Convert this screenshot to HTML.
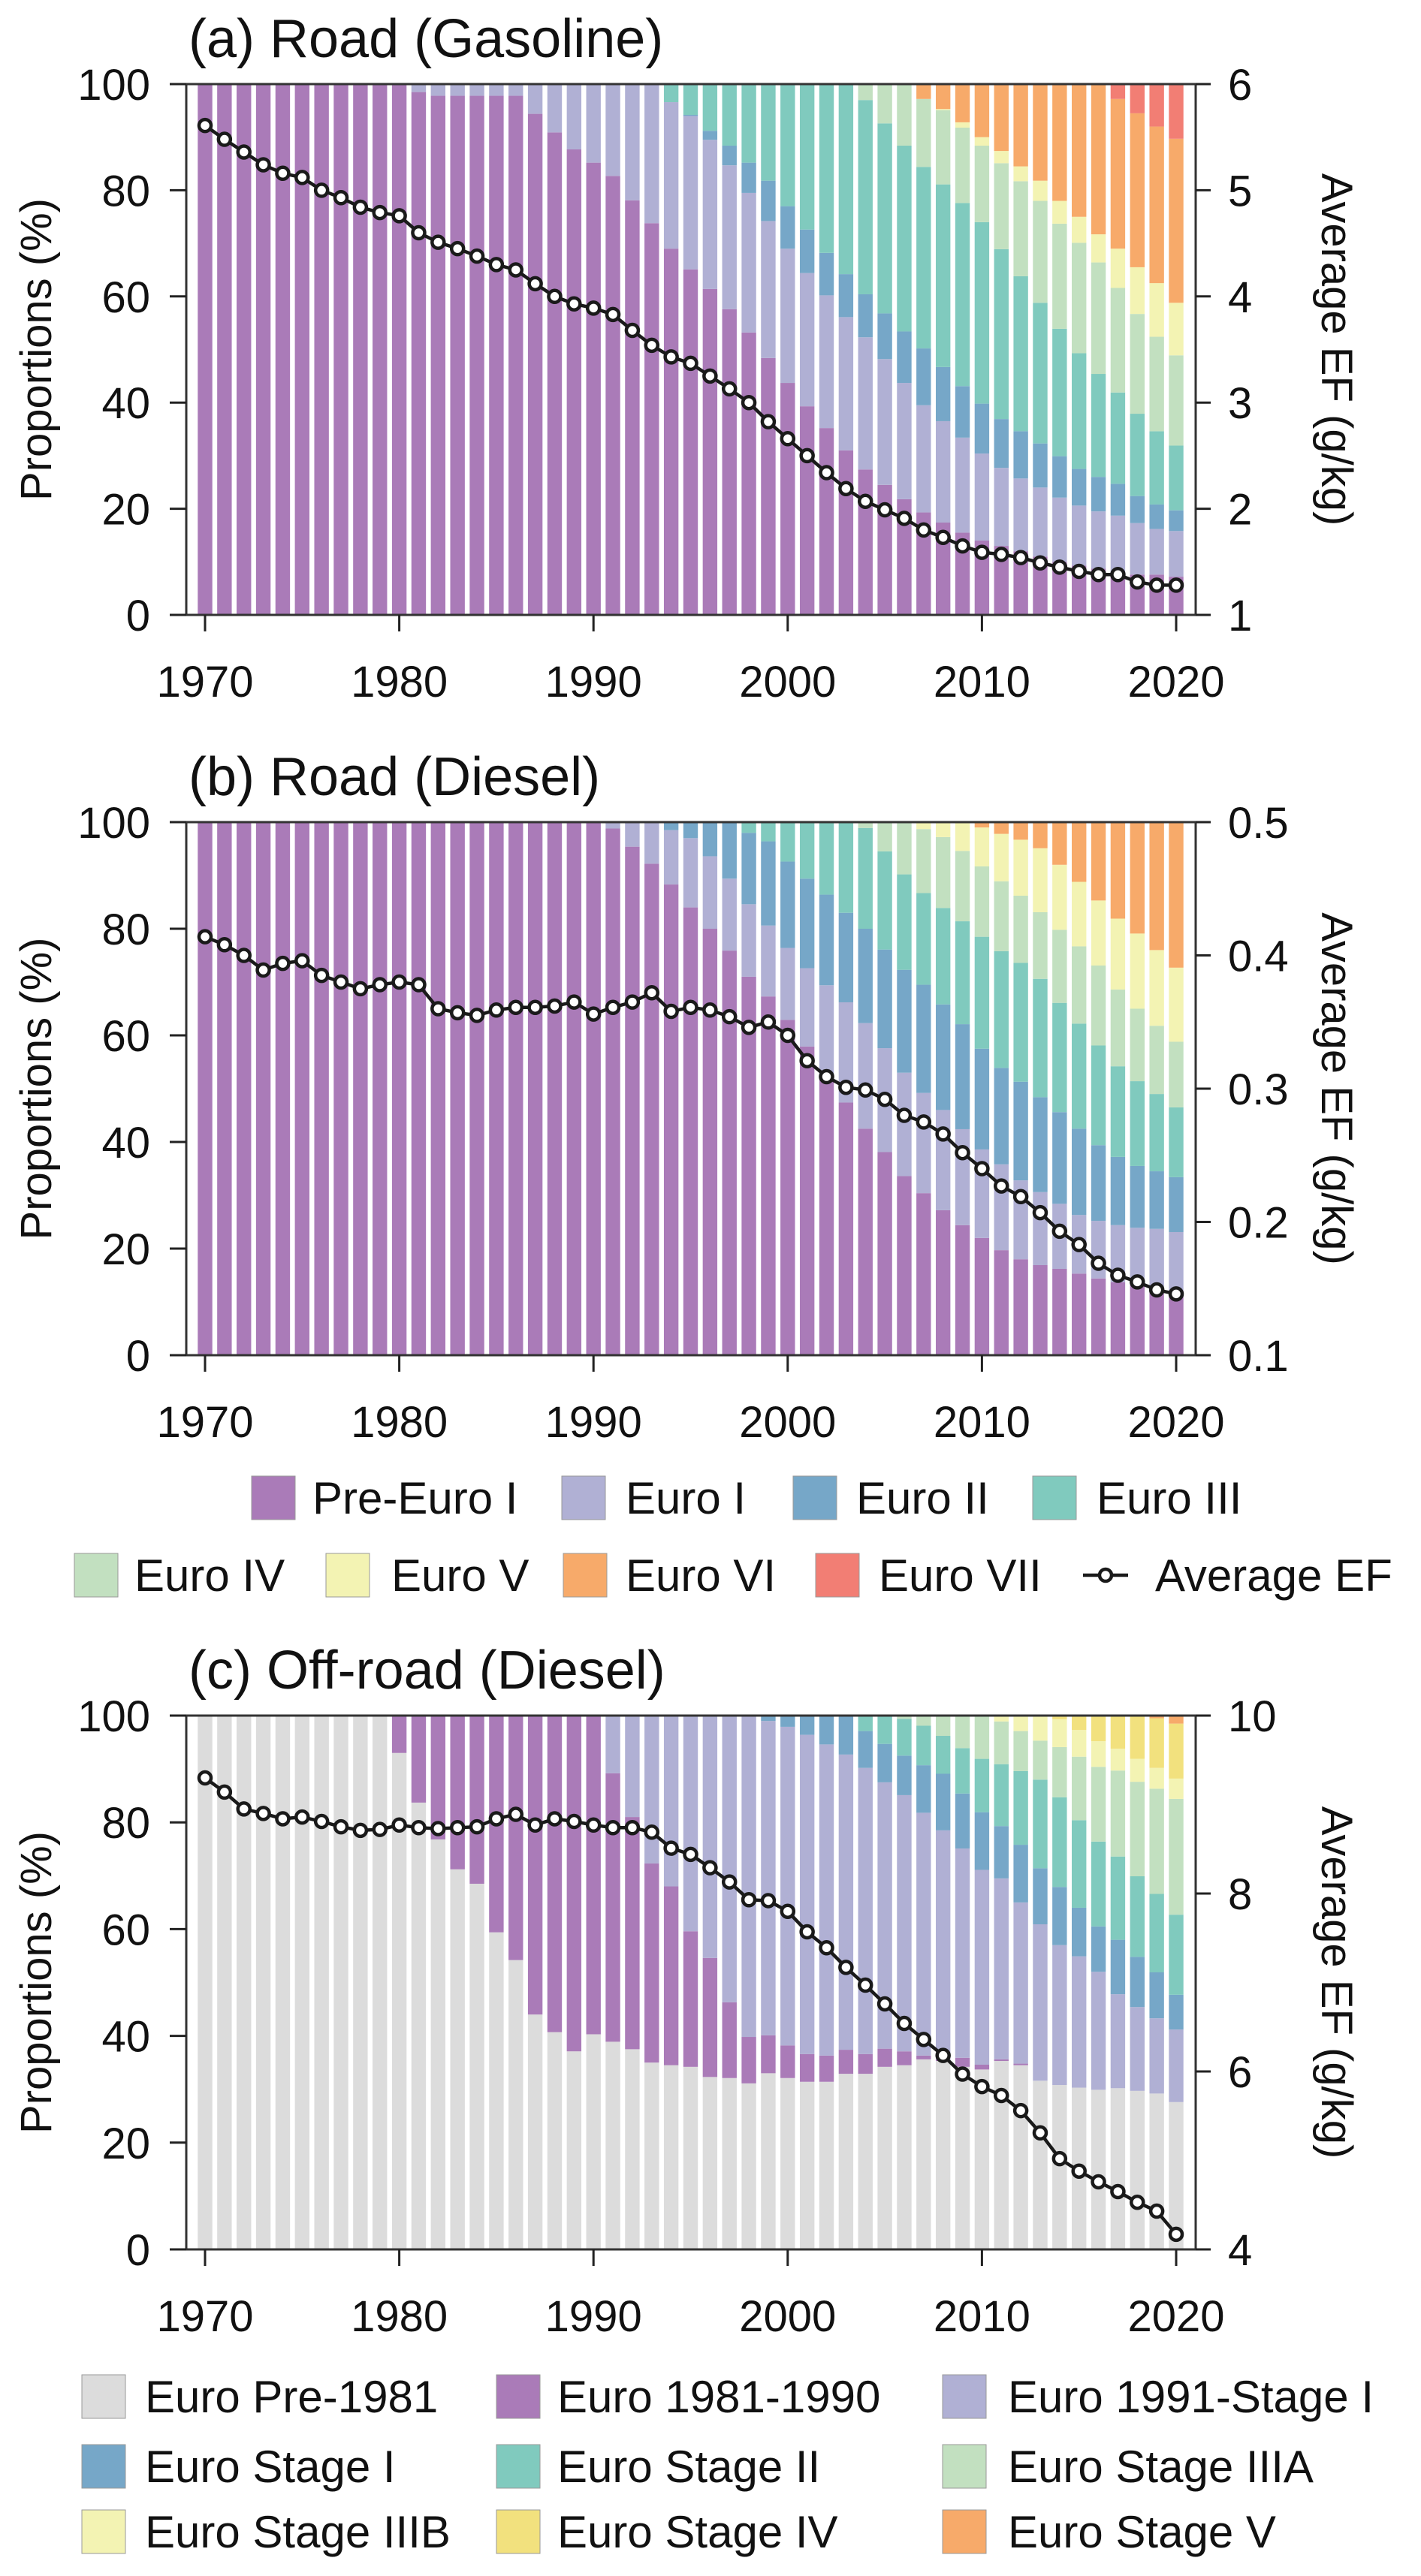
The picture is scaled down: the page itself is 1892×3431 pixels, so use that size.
<!DOCTYPE html>
<html><head><meta charset="utf-8"><style>
html,body{margin:0;padding:0;background:#fff;}
svg{display:block;font-family:"Liberation Sans",Arial,sans-serif;}
</style></head><body>
<svg id="chart" width="1892" height="3431" viewBox="0 0 1892 3431" xmlns="http://www.w3.org/2000/svg"></svg>
<script>
// ---------- data ----------
const years = [];
for (let y = 1970; y <= 2020; y++) years.push(y);
const yearTicks = [1970, 1980, 1990, 2000, 2010, 2020];
const pctTicks = [0, 20, 40, 60, 80, 100];
const gasEfTicks = [1, 2, 3, 4, 5, 6];
const dieselEfTicks = [0.1, 0.2, 0.3, 0.4, 0.5];
const dieselEfTickLabels = ["0.1", "0.2", "0.3", "0.4", "0.5"];
const offEfTicks = [4, 6, 8, 10];

function rep(v, n) { return Array(n).fill(v); }

// (a) Road gasoline - cumulative top (%) of each category
const gasPreEuroTop = rep(100, 11).concat([98.5, 97.8, 97.8, 97.8, 97.8, 97.8, 94.4, 90.9, 87.7, 85.2, 82.7, 78.1, 73.8, 69, 65.1, 61.4, 57.6, 53.2, 48.4, 43.7, 39.3, 35.2, 31, 27.4, 24.5, 21.8, 19.3, 17.4, 15.5, 14, 13, 12, 11, 10, 9.3, 8.7, 7.9, 7.6, 7.6, 7.2]);
const gasEuro1Top = rep(100, 24).concat([96.6, 94, 89.5, 84.7, 79.5, 74.2, 69, 64.4, 60.2, 56.1, 52.3, 48.2, 43.7, 39.5, 36.5, 33.4, 30.4, 27.7, 25.7, 24, 22.1, 20.6, 19.5, 18.7, 17.3, 16.2, 15.8]);
const gasEuro2Top = rep(100, 24).concat([96.6, 94.2, 91.2, 88.4, 85.2, 81.8, 77, 72.6, 68.2, 64.2, 60.4, 56.8, 53.4, 50.2, 46.7, 43.1, 39.8, 36.9, 34.6, 32.3, 29.9, 27.5, 26, 24.7, 22.4, 20.8, 19.7]);
const gasEuro3Top = rep(100, 34).concat([97, 92.6, 88.4, 84.4, 81.1, 77.6, 74, 68.9, 63.8, 58.8, 53.9, 49.3, 45.4, 41.9, 37.9, 34.6, 31.9]);
const gasEuro4Top = rep(100, 37).concat([97.2, 95.1, 91.8, 88.4, 85.1, 81.7, 78, 73.7, 70.1, 66.4, 61.6, 56.7, 52.4, 48.9]);
const gasEuro5Top = rep(100, 37).concat([97.2, 95.3, 92.8, 90, 87.4, 84.5, 81.8, 78, 75, 71.7, 69, 65.5, 62.5, 58.8]);
const gasEuro6Top = rep(100, 47).concat([97.2, 94.5, 92, 89.7]);
const gasEuro7Top = rep(100, 51);
const gasAvgEF = [5.61, 5.48, 5.36, 5.24, 5.16, 5.12, 5.0, 4.93, 4.84, 4.79, 4.76, 4.6, 4.51, 4.45, 4.38, 4.3, 4.25, 4.12, 4.0, 3.93, 3.89, 3.83, 3.68, 3.54, 3.43, 3.37, 3.25, 3.13, 3.0, 2.82, 2.66, 2.5, 2.34, 2.19, 2.07, 1.99, 1.91, 1.8, 1.73, 1.65, 1.59, 1.57, 1.54, 1.49, 1.45, 1.41, 1.38, 1.38, 1.31, 1.28, 1.28];

// (b) Road diesel
const dslPreEuroTop = rep(100, 21).concat([98.8, 95.4, 92.2, 88.3, 84, 80, 75.9, 71, 67.3, 62.9, 57.9, 52.8, 47.4, 42.5, 38.1, 33.6, 30.4, 27.2, 24.4, 22, 19.7, 18, 16.9, 16.2, 15.3, 14.4, 13.7, 13.1, 12.6, 12.1]);
const dslEuro1Top = rep(100, 24).concat([98.5, 97, 93.6, 89.4, 84.6, 80.6, 76.4, 72.6, 69.4, 66.2, 62.3, 57.6, 53, 49.2, 46, 42.4, 38.6, 35.8, 32.8, 30.6, 28.4, 26.3, 25.2, 24.4, 23.9, 23.7, 23.1]);
const dslEuro2Top = rep(100, 28).concat([98, 96.4, 92.6, 89.4, 86.4, 83, 80, 76.1, 72.3, 69.5, 65.8, 62.1, 57.5, 53.9, 51.3, 48.4, 45.6, 42.5, 39.4, 37.2, 35.5, 34.5, 33.4]);
const dslEuro3Top = rep(100, 34).concat([98.9, 94.5, 90.2, 86.7, 83.9, 81.4, 78.5, 75.8, 73.6, 70.6, 66.1, 62.2, 58.1, 54.2, 51.4, 49, 46.5]);
const dslEuro4Top = rep(100, 37).concat([98.7, 97.2, 94.6, 91.7, 88.9, 86.2, 83.1, 79.8, 76.7, 73.1, 68.6, 65, 61.8, 58.8]);
const dslEuro5Top = rep(100, 40).concat([99, 97.8, 96.7, 95.1, 92, 88.8, 85.3, 81.9, 79.1, 76, 72.7]);
const dslEuro6Top = rep(100, 51);
const dslAvgEF = [0.414, 0.408, 0.4, 0.389, 0.394, 0.396, 0.385, 0.38, 0.375, 0.378, 0.38, 0.378, 0.36, 0.357, 0.355, 0.359, 0.361, 0.361, 0.362, 0.365, 0.356, 0.361, 0.365, 0.372, 0.358, 0.361, 0.359, 0.354, 0.346, 0.35, 0.34, 0.321, 0.309, 0.301, 0.299, 0.292, 0.28, 0.275, 0.266, 0.252, 0.24, 0.227, 0.219, 0.207, 0.193, 0.183, 0.169, 0.16, 0.155, 0.149, 0.146];

// (c) Off-road diesel
const offPre1981Top = rep(100, 10).concat([93, 83.7, 76.8, 71.2, 68.5, 59.4, 54.2, 44, 40.7, 37.1, 40.3, 38.9, 37.5, 35, 34.5, 34.2, 32.3, 32.1, 31.1, 33, 32.1, 31.4, 31.4, 32.9, 32.9, 34.2, 34.5, 35.6, 35.3, 34.2, 33.7, 35.3, 34.5, 31.6, 30.8, 30.3, 29.9, 30.2, 29.7, 29.2, 27.6]);
const off1981Top = rep(100, 21).concat([89.2, 81, 72.3, 68, 59.6, 54.6, 46.3, 39.8, 40.1, 38.2, 36.6, 36.3, 37.4, 36.6, 37.6, 37.1, 36.3, 35.6, 35.9, 34.6, 35.6, 34.8, 31.6, 30.8, 30.3, 29.9, 30.2, 29.7, 29.2, 27.6]);
const off1991Top = rep(100, 29).concat([99, 97.9, 96.4, 94.6, 92.7, 90.2, 87.5, 85.1, 81.8, 78.5, 75.1, 71.1, 69.5, 65, 60.9, 57, 54.9, 52, 47.8, 45.4, 43.3, 41.2]);
const offStage1Top = rep(100, 34).concat([97.1, 94.7, 92.5, 90.7, 89.1, 85.4, 81.9, 79.3, 75.8, 71.4, 67.9, 64, 60.5, 58, 54.8, 51.9, 47.7]);
const offStage2Top = rep(100, 36).concat([99.4, 98.1, 96.2, 93.9, 91.9, 90.9, 89.6, 88, 84.7, 80.4, 76.4, 73.6, 69.9, 66.6, 62.7]);
const offStage3aTop = rep(100, 41).concat([98.9, 97.1, 95.3, 94.1, 92.3, 90.4, 89.7, 87.6, 86.3, 84.4]);
const offStage3bTop = rep(100, 44).concat([99.3, 97.3, 95.2, 93.8, 91.9, 90.2, 88.2]);
const offStage4Top = rep(100, 49).concat([99.5, 98.5]);
const offStage5Top = rep(100, 51);
const offAvgEF = [9.3, 9.14, 8.95, 8.9, 8.84, 8.86, 8.81, 8.75, 8.71, 8.72, 8.77, 8.74, 8.73, 8.74, 8.75, 8.84, 8.89, 8.77, 8.84, 8.81, 8.77, 8.74, 8.74, 8.69, 8.51, 8.44, 8.29, 8.13, 7.93, 7.92, 7.8, 7.57, 7.39, 7.17, 6.97, 6.76, 6.54, 6.36, 6.18, 5.97, 5.83, 5.73, 5.56, 5.31, 5.02, 4.88, 4.76, 4.65, 4.53, 4.43, 4.17];

// ---------- styles ----------
const C = {purple:"#aa7bb8", lav:"#b0b0d4", blue:"#76a7c8", teal:"#80cabe", ltgreen:"#c2e0c0", ltyellow:"#f3f3b3", orange:"#f7aa6a", red:"#f27e74", grey:"#dcdcdc", yellow:"#f2e17e"};
const NS = "http://www.w3.org/2000/svg";
const svg = document.getElementById("chart");
function el(tag, attrs, parent) {
  const e = document.createElementNS(NS, tag);
  for (const k in attrs) e.setAttribute(k, attrs[k]);
  (parent || svg).appendChild(e);
  return e;
}
const X0 = 273, XSTEP = 25.86, LEFT = 248, RIGHT = 1592, BW = 19.4;
function xScale(yr) { return X0 + (yr - 1970) * XSTEP; }

function drawPanel(cfg) {
  const g = el("g", {});
  
  
  const top = cfg.top, bot = cfg.bot, h = bot - top;
  const yP = v => bot - v / 100 * h;
  const yE = v => bot - (v - cfg.efMin) / (cfg.efMax - cfg.efMin) * h;
  const t = el("text", {x: 251, y: top - 36, "font-size": 72, fill: "#111"}, g);
  t.textContent = cfg.title;
  
  
  years.forEach((yr, i) => {
    let prev = 0;
    cfg.series.forEach(s => {
      const v = s.tops[i];
      const hh = yP(prev) - yP(v);
      if (hh > 0.05) {
        const r = el("rect", {x: xScale(yr) - BW / 2, y: yP(v), width: BW, height: hh, fill: s.color}, g);
        
        
      }
      prev = Math.max(prev, v);
    });
  });
  const fr = el("rect", {x: LEFT, y: top, width: RIGHT - LEFT, height: h, fill: "none", stroke: "#333", "stroke-width": 3}, g);
  
  
  pctTicks.forEach(v => {
    const yy = yP(v);
    const tk = el("line", {x1: LEFT - 22, x2: LEFT, y1: yy, y2: yy, stroke: "#222", "stroke-width": 3}, g);
    
    
    const tl = el("text", {x: 200, y: yy + 21, "font-size": 58, "text-anchor": "end", fill: "#111"}, g);
    tl.textContent = v;
    
    
  });
  cfg.efTicks.forEach((v, k) => {
    const yy = yE(v);
    const tk = el("line", {x1: RIGHT, x2: RIGHT + 20, y1: yy, y2: yy, stroke: "#222", "stroke-width": 3}, g);
    
    
    const tl = el("text", {x: 1635, y: yy + 21, "font-size": 58, fill: "#111"}, g);
    tl.textContent = cfg.efLabels ? cfg.efLabels[k] : v;
    
    
  });
  yearTicks.forEach(yr => {
    const xx = xScale(yr);
    const tk = el("line", {x1: xx, x2: xx, y1: bot, y2: bot + 22, stroke: "#222", "stroke-width": 3}, g);
    
    
    const tl = el("text", {x: xx, y: bot + 109, "font-size": 58, "text-anchor": "middle", fill: "#111"}, g);
    tl.textContent = yr;
    
    
  });
  const cy = (top + bot) / 2;
  const yl = el("text", {x: 0, y: 0, "font-size": 58, "text-anchor": "middle", fill: "#111", transform: `translate(68 ${cy}) rotate(-90)`}, g);
  yl.textContent = "Proportions (%)";
  
  
  const yr2 = el("text", {x: 0, y: 0, "font-size": 58, "text-anchor": "middle", fill: "#111", transform: `translate(1760 ${cy}) rotate(90)`}, g);
  yr2.textContent = "Average EF (g/kg)";
  
  
  const pts = years.map((yr, i) => xScale(yr) + "," + yE(cfg.ef[i])).join(" ");
  const pl = el("polyline", {points: pts, fill: "none", stroke: "#1a1a1a", "stroke-width": 4.5}, g);
  
  
  years.forEach((yr, i) => {
    const c = el("circle", {cx: xScale(yr), cy: yE(cfg.ef[i]), r: 8, fill: "#fff", stroke: "#1a1a1a", "stroke-width": 4.5}, g);
    
    
  });
}

drawPanel({name: "panel-road-gasoline", title: "(a) Road (Gasoline)", top: 112, bot: 819, efMin: 1, efMax: 6, efTicks: gasEfTicks, ef: gasAvgEF,
  series: [
    {key: "pre-euro-i", tops: gasPreEuroTop, color: C.purple},
    {key: "euro-i", tops: gasEuro1Top, color: C.lav},
    {key: "euro-ii", tops: gasEuro2Top, color: C.blue},
    {key: "euro-iii", tops: gasEuro3Top, color: C.teal},
    {key: "euro-iv", tops: gasEuro4Top, color: C.ltgreen},
    {key: "euro-v", tops: gasEuro5Top, color: C.ltyellow},
    {key: "euro-vi", tops: gasEuro6Top, color: C.orange},
    {key: "euro-vii", tops: gasEuro7Top, color: C.red}]});

drawPanel({name: "panel-road-diesel", title: "(b) Road (Diesel)", top: 1095, bot: 1805, efMin: 0.1, efMax: 0.5, efTicks: dieselEfTicks, efLabels: dieselEfTickLabels, ef: dslAvgEF,
  series: [
    {key: "pre-euro-i", tops: dslPreEuroTop, color: C.purple},
    {key: "euro-i", tops: dslEuro1Top, color: C.lav},
    {key: "euro-ii", tops: dslEuro2Top, color: C.blue},
    {key: "euro-iii", tops: dslEuro3Top, color: C.teal},
    {key: "euro-iv", tops: dslEuro4Top, color: C.ltgreen},
    {key: "euro-v", tops: dslEuro5Top, color: C.ltyellow},
    {key: "euro-vi", tops: dslEuro6Top, color: C.orange}]});

drawPanel({name: "panel-offroad-diesel", title: "(c) Off-road (Diesel)", top: 2285, bot: 2996, efMin: 4, efMax: 10, efTicks: offEfTicks, ef: offAvgEF,
  series: [
    {key: "pre-1981", tops: offPre1981Top, color: C.grey},
    {key: "1981-1990", tops: off1981Top, color: C.purple},
    {key: "1991-stage-i", tops: off1991Top, color: C.lav},
    {key: "stage-i", tops: offStage1Top, color: C.blue},
    {key: "stage-ii", tops: offStage2Top, color: C.teal},
    {key: "stage-iiia", tops: offStage3aTop, color: C.ltgreen},
    {key: "stage-iiib", tops: offStage3bTop, color: C.ltyellow},
    {key: "stage-iv", tops: offStage4Top, color: C.yellow},
    {key: "stage-v", tops: offStage5Top, color: C.orange}]});

// ---------- legends ----------
function legendItem(x, tx, cy, color, label, name) {
  const g = el("g", {});
  
  
  if (color) {
    el("rect", {x: x, y: cy - 29, width: 58, height: 58, fill: color, stroke: "#999", "stroke-width": 1}, g);
  } else {
    el("line", {x1: x, x2: x + 60, y1: cy, y2: cy, stroke: "#1a1a1a", "stroke-width": 4.5}, g);
    el("circle", {cx: x + 30, cy: cy, r: 8, fill: "#fff", stroke: "#1a1a1a", "stroke-width": 4.5}, g);
  }
  const t = el("text", {x: tx, y: cy + 21, "font-size": 60, fill: "#111"}, g);
  t.textContent = label;
}
legendItem(335, 416, 1995, C.purple, "Pre-Euro I", "legend-pre-euro-i");
legendItem(748, 833, 1995, C.lav, "Euro I", "legend-euro-i");
legendItem(1056, 1140, 1995, C.blue, "Euro II", "legend-euro-ii");
legendItem(1375, 1460, 1995, C.teal, "Euro III", "legend-euro-iii");
legendItem(99, 179, 2098, C.ltgreen, "Euro IV", "legend-euro-iv");
legendItem(434, 521, 2098, C.ltyellow, "Euro V", "legend-euro-v");
legendItem(750, 833, 2098, C.orange, "Euro VI", "legend-euro-vi");
legendItem(1086, 1170, 2098, C.red, "Euro VII", "legend-euro-vii");
legendItem(1442, 1538, 2098, null, "Average EF", "legend-average-ef");

legendItem(109, 193, 3192, C.grey, "Euro Pre-1981", "legend-euro-pre-1981");
legendItem(661, 742, 3192, C.purple, "Euro 1981-1990", "legend-euro-1981-1990");
legendItem(1255, 1342, 3192, C.lav, "Euro 1991-Stage I", "legend-euro-1991-stage-i");
legendItem(109, 193, 3285, C.blue, "Euro Stage I", "legend-euro-stage-i");
legendItem(661, 742, 3285, C.teal, "Euro Stage II", "legend-euro-stage-ii");
legendItem(1255, 1342, 3285, C.ltgreen, "Euro Stage IIIA", "legend-euro-stage-iiia");
legendItem(109, 193, 3372, C.ltyellow, "Euro Stage IIIB", "legend-euro-stage-iiib");
legendItem(661, 742, 3372, C.yellow, "Euro Stage IV", "legend-euro-stage-iv");
legendItem(1255, 1342, 3372, C.orange, "Euro Stage V", "legend-euro-stage-v");
</script>
</body></html>
